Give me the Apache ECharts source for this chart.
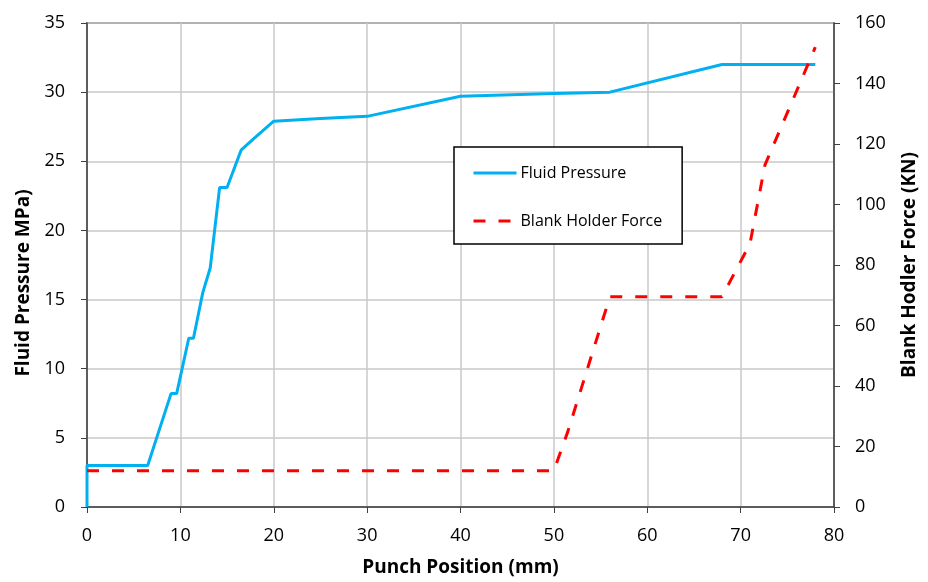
<!DOCTYPE html>
<html lang="en">
<head>
    <meta charset="UTF-8">
    <title>Fluid Pressure and Blank Holder Force</title>
    <style>
        html, body { margin: 0; padding: 0; background: #fff; }
        .box { width: 928px; height: 582px; }
    </style>
</head>
<body>
    <div class="box"></div>
    <script src="https://cdn.jsdelivr.net/npm/echarts@6/dist/echarts.min.js"></script>
    <script>
        // punch position (mm) / fluid pressure (MPa)
        var fluidX = [0, 0, 6.5, 9, 9.6, 10.9, 11.4, 12.4, 13.2, 14.2, 15, 16.5, 17.8, 20, 25, 30, 40, 50, 56, 68, 78];
        var fluidY = [0, 3, 3, 8.2, 8.2, 12.2, 12.2, 15.5, 17.3, 23.1, 23.1, 25.8, 26.6, 27.9, 28.1, 28.25, 29.7, 29.9, 30, 32, 32];
        // punch position (mm) / blank holder force (KN)
        var forceX = [0, 50, 51.5, 56, 68, 71, 72.6, 78];
        var forceY = [12, 12, 25, 69.5, 69.5, 87, 113, 152];

        var fontName = 'Open Sans';
        var axisDark = '#404040';
        var gridGray = '#c8c8c8';

        function pairs(xs, ys) {
            var out = [];
            xs.forEach(function (x, i) { out.push([x, ys[i]]); });
            return out;
        }

        var titleStyle = { fontFamily: fontName, fontSize: 19, fontWeight: 'bold', color: '#000' };
        var tickStyle = { fontFamily: fontName, fontSize: 18, color: '#000' };

        var myChart = echarts.init(document.getElementsByClassName('box')[0]);
        var option = {
            animation: false,
            textStyle: { fontFamily: fontName },
            grid: {
                left: 87, right: 94, top: 23, bottom: 73,
                show: true, borderColor: axisDark, borderWidth: 1.5,
                containLabel: false
            },
            legend: {
                orient: 'vertical',
                left: 454, top: 147,
                padding: [18, 20, 15, 18],
                itemGap: 32,
                itemWidth: 43,
                itemHeight: 14,
                borderColor: '#000',
                borderWidth: 1.5,
                backgroundColor: '#fff',
                itemStyle: { opacity: 0 },
                lineStyle: { width: 3 },
                textStyle: { fontFamily: fontName, fontSize: 16, color: '#000', padding: [0, 0, 0, -1] },
                data: ['Fluid Pressure', 'Blank Holder Force']
            },
            xAxis: {
                type: 'value',
                min: 0, max: 80, interval: 10,
                name: 'Punch Position (mm)',
                nameLocation: 'middle',
                nameGap: 51,
                nameTextStyle: titleStyle,
                axisLine: { show: true, onZero: false, lineStyle: { color: axisDark, width: 1.5 } },
                axisTick: { show: true, length: 6, lineStyle: { color: axisDark } },
                axisLabel: Object.assign({ margin: 20 }, tickStyle),
                splitLine: { show: true, lineStyle: { color: gridGray, width: 1.5 } }
            },
            yAxis: [{
                type: 'value',
                min: 0, max: 35, interval: 5,
                name: 'Fluid Pressure MPa)',
                nameLocation: 'middle',
                nameGap: 54,
                nameTextStyle: Object.assign({ padding: [0, 36, 0, 0] }, titleStyle),
                axisLine: { show: true, lineStyle: { color: axisDark, width: 1.5 } },
                axisTick: { show: true, length: 6, lineStyle: { color: axisDark } },
                axisLabel: Object.assign({ margin: 22 }, tickStyle),
                splitLine: { show: true, lineStyle: { color: gridGray, width: 1.5 } }
            }, {
                type: 'value',
                position: 'right',
                min: 0, max: 160, interval: 20,
                name: 'Blank Hodler Force (KN)',
                nameLocation: 'middle',
                nameGap: 66,
                nameTextStyle: titleStyle,
                axisLine: { show: true, lineStyle: { color: axisDark, width: 1.5 } },
                axisTick: { show: true, length: 6, lineStyle: { color: axisDark } },
                axisLabel: Object.assign({ margin: 21 }, tickStyle),
                splitLine: { show: false }
            }],
            series: [{
                name: 'Fluid Pressure',
                type: 'line',
                yAxisIndex: 0,
                showSymbol: false,
                symbol: 'none',
                color: '#00b0f0',
                lineStyle: { color: '#00b0f0', width: 3 },
                data: pairs(fluidX, fluidY)
            }, {
                name: 'Blank Holder Force',
                type: 'line',
                yAxisIndex: 1,
                showSymbol: false,
                symbol: 'none',
                color: '#ff0000',
                lineStyle: { color: '#ff0000', width: 3, type: [12, 13] },
                data: pairs(forceX, forceY)
            }]
        };
        myChart.setOption(option);
    </script>
</body>
</html>
